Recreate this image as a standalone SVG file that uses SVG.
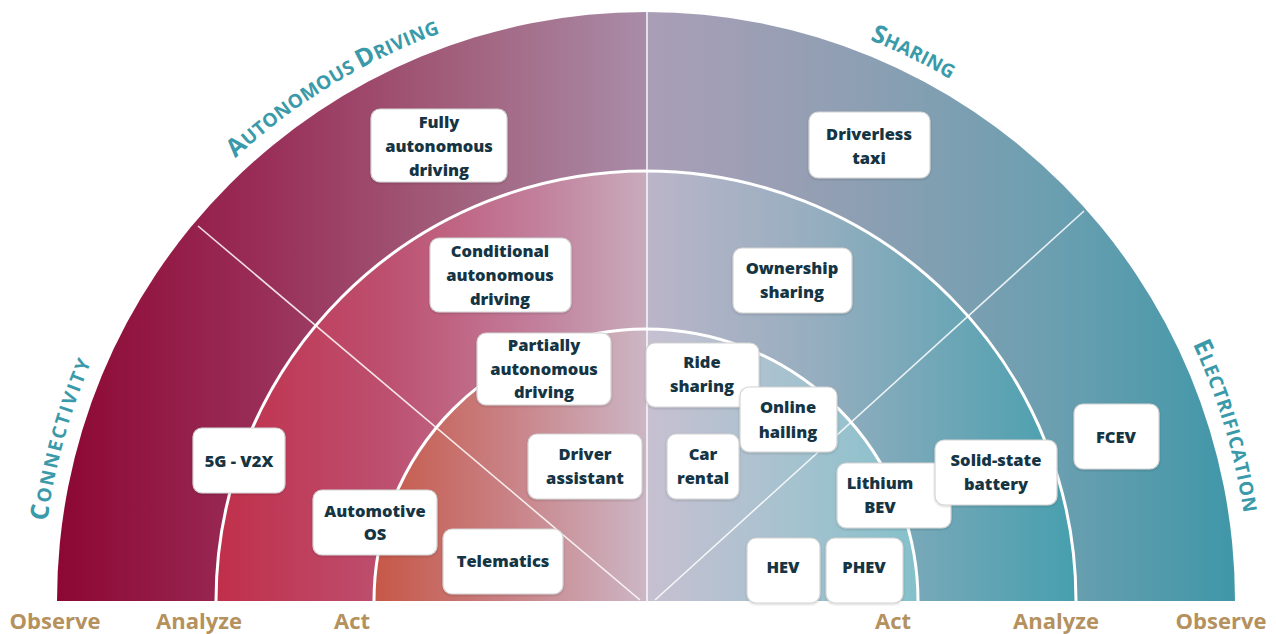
<svg xmlns="http://www.w3.org/2000/svg" xmlns:xlink="http://www.w3.org/1999/xlink" width="1276" height="634" viewBox="0 0 1276 634">
<defs>
<linearGradient id="gOL" gradientUnits="userSpaceOnUse" x1="57" y1="0" x2="646" y2="0">
<stop offset="0" stop-color="#8d0733"/><stop offset="0.35" stop-color="#992e58"/><stop offset="0.7" stop-color="#a2637f"/><stop offset="1" stop-color="#a98ca8"/>
</linearGradient>
<linearGradient id="gOR" gradientUnits="userSpaceOnUse" x1="646" y1="0" x2="1236" y2="0">
<stop offset="0" stop-color="#aa9eb6"/><stop offset="0.35" stop-color="#8f9fb3"/><stop offset="0.7" stop-color="#6a9fb0"/><stop offset="1" stop-color="#3f97a8"/>
</linearGradient>
<linearGradient id="gML" gradientUnits="userSpaceOnUse" x1="217" y1="0" x2="646" y2="0">
<stop offset="0" stop-color="#c02f4a"/><stop offset="0.4" stop-color="#bd5070"/><stop offset="0.75" stop-color="#c2809c"/><stop offset="1" stop-color="#c8abbc"/>
</linearGradient>
<linearGradient id="gMR" gradientUnits="userSpaceOnUse" x1="646" y1="0" x2="1076" y2="0">
<stop offset="0" stop-color="#bbb5c9"/><stop offset="0.4" stop-color="#95aebf"/><stop offset="1" stop-color="#469fae"/>
</linearGradient>
<linearGradient id="gIL" gradientUnits="userSpaceOnUse" x1="374" y1="0" x2="646" y2="0">
<stop offset="0" stop-color="#c65747"/><stop offset="0.5" stop-color="#c98286"/><stop offset="1" stop-color="#ccb6c5"/>
</linearGradient>
<linearGradient id="gIR" gradientUnits="userSpaceOnUse" x1="646" y1="0" x2="918" y2="0">
<stop offset="0" stop-color="#c7c0d1"/><stop offset="0.5" stop-color="#a8c2cf"/><stop offset="1" stop-color="#84c1cb"/>
</linearGradient>
<path id="titleArc" d="M 42 601 A 604 604 0 0 1 1250 601"/>
<filter id="sh" x="-10%" y="-10%" width="120%" height="130%">
<feDropShadow dx="0" dy="1" stdDeviation="1.2" flood-color="#000" flood-opacity="0.18"/>
</filter>
</defs>
<style>
.box{fill:#ffffff;stroke:#d4d4d4;stroke-width:1.2;filter:url(#sh)}
.nt{font-family:"Open Sans","Liberation Sans",sans-serif;font-weight:800;font-size:16.5px;fill:#163544;text-anchor:middle}
.stage{font-family:"Open Sans","Liberation Sans",sans-serif;font-weight:700;font-size:22px;fill:#b4915d;text-anchor:middle}
.title{font-family:"Open Sans","Liberation Sans",sans-serif;font-weight:700;font-size:19px;fill:#3a9aa9}
.big{font-size:25px}
.ring{fill:none;stroke:#ffffff;stroke-width:3}
.div{stroke:#ffffff;stroke-width:1.6;stroke-opacity:0.85}
</style>

<g id="rings">
<path d="M 57 601 A 589 589 0 0 1 646 12 L 646 601 Z" fill="url(#gOL)"/>
<path d="M 646 12 A 589 589 0 0 1 1235 601 L 646 601 Z" fill="url(#gOR)"/>
<path d="M 217 601 A 429 429 0 0 1 646 172 L 646 601 Z" fill="url(#gML)"/>
<path d="M 646 172 A 429 429 0 0 1 1075 601 L 646 601 Z" fill="url(#gMR)"/>
<path d="M 374 601 A 272 272 0 0 1 646 329 L 646 601 Z" fill="url(#gIL)"/>
<path d="M 646 329 A 272 272 0 0 1 918 601 L 646 601 Z" fill="url(#gIR)"/>
</g>

<g id="connectors">
<path class="ring" d="M 216 601 A 430 430 0 0 1 1076 601"/>
<path class="ring" d="M 374 601 A 272 272 0 0 1 918 601"/>
<line class="div" x1="647" y1="12" x2="647" y2="601" stroke-width="2"/>
<line class="div" x1="198" y1="226" x2="640" y2="600"/>
<line class="div" x1="1084" y1="211" x2="655" y2="600"/>
</g>

<g id="titles">
<text class="title" letter-spacing="2"><textPath xlink:href="#titleArc" startOffset="80"><tspan class="big">C</tspan>ONNECTIVITY</textPath></text>
<text class="title" letter-spacing="0.3"><textPath xlink:href="#titleArc" startOffset="497"><tspan class="big">A</tspan>UTONOMOUS <tspan class="big">D</tspan>RIVING</textPath></text>
<text class="title" letter-spacing="0"><textPath xlink:href="#titleArc" startOffset="1178"><tspan class="big">S</tspan>HARING</textPath></text>
<text class="title" letter-spacing="0.7"><textPath xlink:href="#titleArc" startOffset="1632"><tspan class="big">E</tspan>LECTRIFICATION</textPath></text>
</g>

<g id="stages">
<text class="stage" x="55" y="629">Observe</text>
<text class="stage" x="199" y="629">Analyze</text>
<text class="stage" x="352" y="629">Act</text>
<text class="stage" x="893" y="629">Act</text>
<text class="stage" x="1056" y="629">Analyze</text>
<text class="stage" x="1221" y="629">Observe</text>
</g>

<g id="n-fully"><rect class="box" x="371" y="109" width="136" height="73" rx="9"/><text class="nt" x="439" y="128">Fully</text><text class="nt" x="439" y="152">autonomous</text><text class="nt" x="439" y="176">driving</text></g>
<g id="n-driverless"><rect class="box" x="809" y="112" width="121" height="66" rx="9"/><text class="nt" x="869" y="140">Driverless</text><text class="nt" x="869" y="164">taxi</text></g>
<g id="n-conditional"><rect class="box" x="430" y="238" width="141" height="74" rx="9"/><text class="nt" x="500" y="257">Conditional</text><text class="nt" x="500" y="281">autonomous</text><text class="nt" x="500" y="305">driving</text></g>
<g id="n-ownership"><rect class="box" x="733" y="248" width="119" height="65" rx="9"/><text class="nt" x="792" y="274">Ownership</text><text class="nt" x="792" y="298">sharing</text></g>
<g id="n-partially"><rect class="box" x="477" y="333" width="134" height="72" rx="9"/><text class="nt" x="544" y="351">Partially</text><text class="nt" x="544" y="375">autonomous</text><text class="nt" x="544" y="398">driving</text></g>
<g id="n-ride"><rect class="box" x="646" y="343" width="113" height="64" rx="9"/><text class="nt" x="702" y="368">Ride</text><text class="nt" x="702" y="392">sharing</text></g>
<g id="n-online"><rect class="box" x="740" y="387" width="97" height="65" rx="9"/><text class="nt" x="788" y="413">Online</text><text class="nt" x="788" y="438">hailing</text></g>
<g id="n-driver"><rect class="box" x="528" y="434" width="114" height="65" rx="9"/><text class="nt" x="585" y="460">Driver</text><text class="nt" x="585" y="484">assistant</text></g>
<g id="n-car"><rect class="box" x="667" y="434" width="72" height="65" rx="9"/><text class="nt" x="703" y="460">Car</text><text class="nt" x="703" y="484">rental</text></g>
<g id="n-5g"><rect class="box" x="193" y="428" width="92" height="65" rx="9"/><text class="nt" x="239" y="467">5G - V2X</text></g>
<g id="n-os"><rect class="box" x="313" y="490" width="124" height="65" rx="9"/><text class="nt" x="375" y="517">Automotive</text><text class="nt" x="375" y="540">OS</text></g>
<g id="n-telematics"><rect class="box" x="443" y="529" width="120" height="65" rx="9"/><text class="nt" x="503" y="567">Telematics</text></g>
<g id="n-hev"><rect class="box" x="747" y="538" width="73" height="65" rx="9"/><text class="nt" x="783" y="573">HEV</text></g>
<g id="n-phev"><rect class="box" x="826" y="538" width="77" height="65" rx="9"/><text class="nt" x="864" y="573">PHEV</text></g>
<g id="n-lithium"><rect class="box" x="837" y="463" width="114" height="65" rx="9"/><text class="nt" x="880" y="489">Lithium</text><text class="nt" x="880" y="513">BEV</text></g>
<g id="n-solid"><rect class="box" x="935" y="440" width="122" height="65" rx="9"/><text class="nt" x="996" y="466">Solid-state</text><text class="nt" x="996" y="490">battery</text></g>
<g id="n-fcev"><rect class="box" x="1074" y="404" width="85" height="65" rx="9"/><text class="nt" x="1116" y="443">FCEV</text></g>
</svg>
